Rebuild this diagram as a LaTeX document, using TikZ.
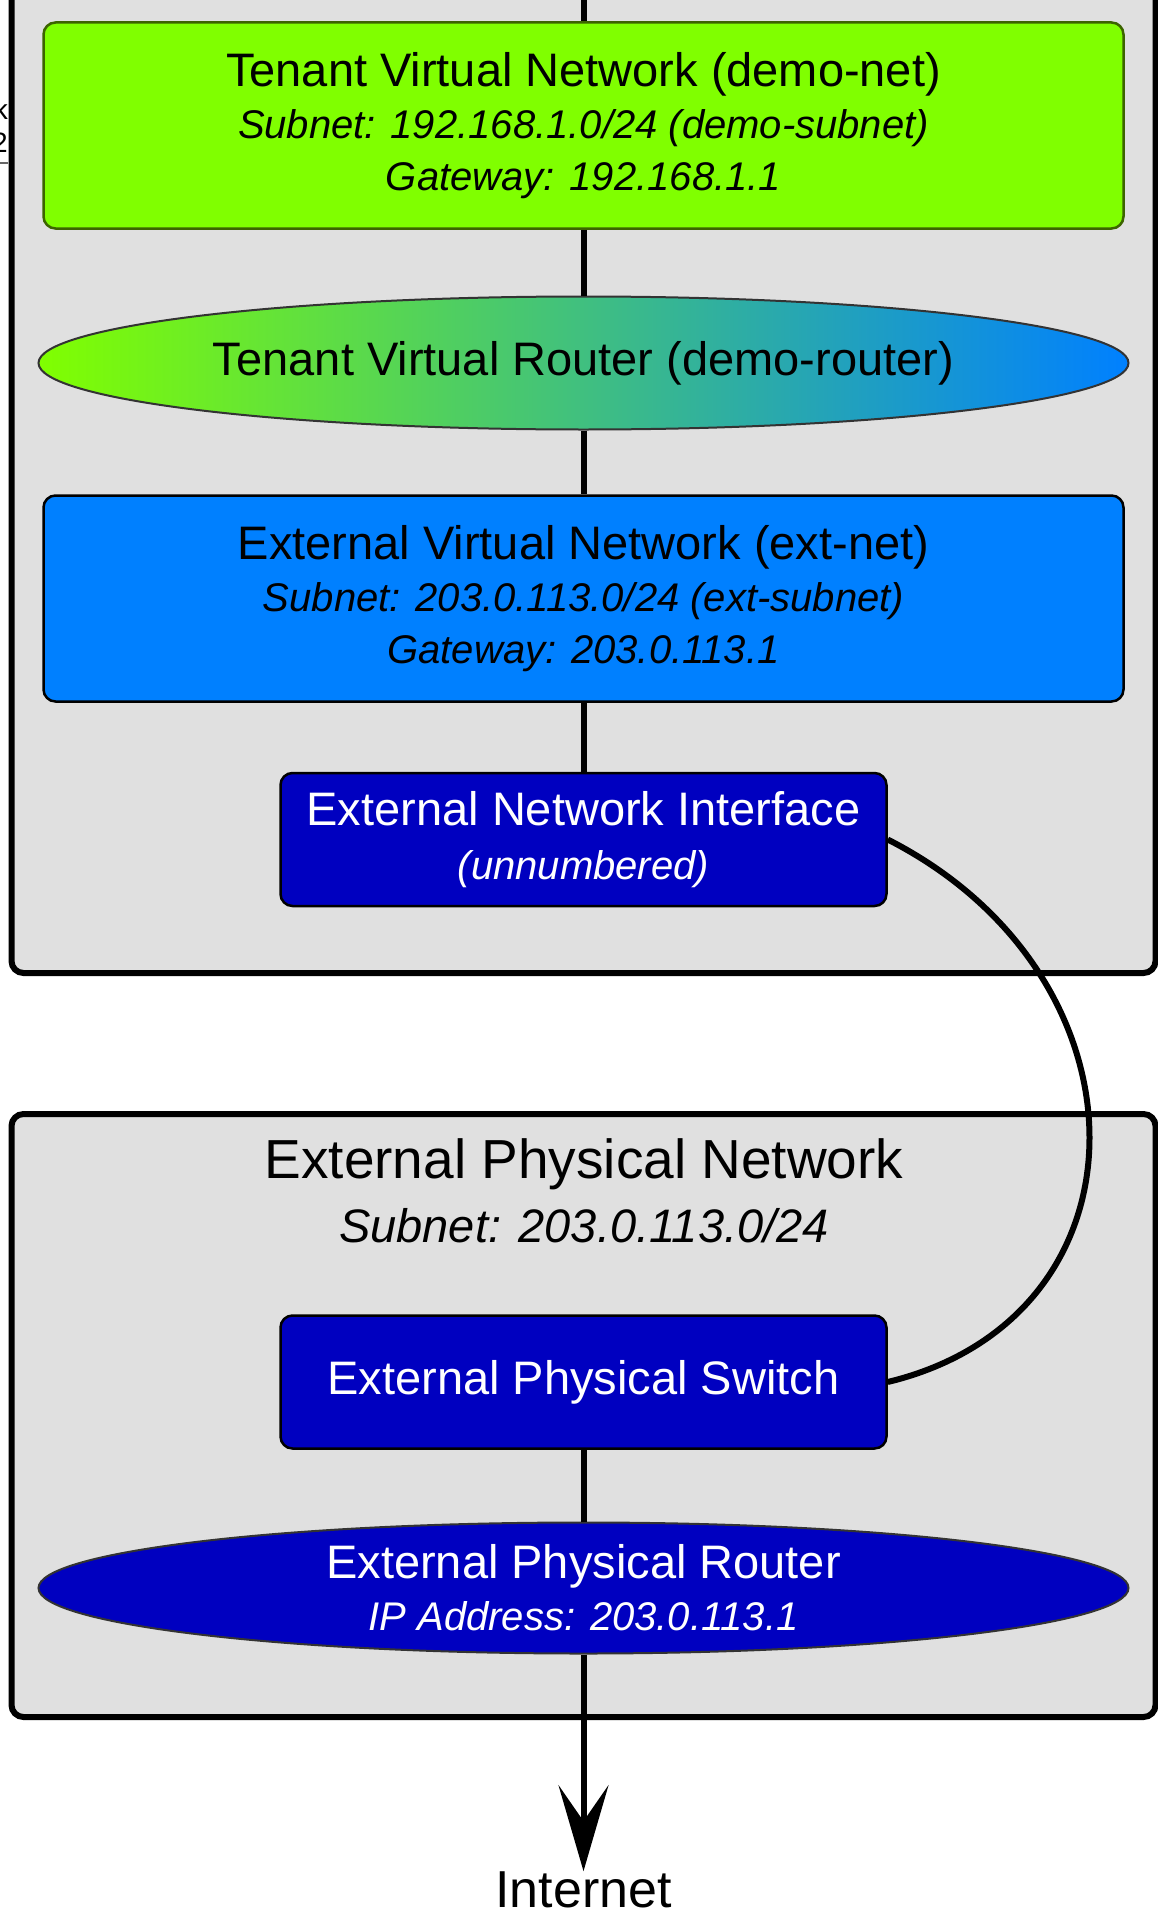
\documentclass[tikz,border=0pt]{standalone}
\usepackage{fontspec}
\setmainfont{Liberation Sans}
\usetikzlibrary{arrows.meta, shapes.geometric}

\definecolor{netgreen}{RGB}{128,255,0}
\definecolor{netgreenline}{RGB}{60,100,0}
\definecolor{netblue}{RGB}{0,128,255}
\definecolor{devblue}{RGB}{0,0,192}
\definecolor{areagray}{RGB}{224,224,224}

\newcommand{\mainline}[1]{{\upshape\fontsize{47}{52}\selectfont #1}}

\tikzset{
	area/.style={draw=black, line width=6pt, fill=areagray, rounded corners=12pt, inner sep=0pt, minimum width=1144pt},
	netbox/.style={draw=black, line width=2.5pt, rounded corners=12pt, inner sep=0pt, minimum width=1080pt, minimum height=206pt, align=center, font=\fontsize{40}{52}\selectfont\itshape},
	devbox/.style={draw=black, line width=2.5pt, fill=devblue, text=white, rounded corners=12pt, inner sep=0pt, minimum width=606pt, minimum height=133pt, align=center, font=\fontsize{40}{54}\selectfont\itshape},
	router/.style={ellipse, draw=black!80, line width=2pt, inner sep=0pt, minimum width=1090pt, minimum height=133pt, align=center, font=\fontsize{40}{52}\selectfont\itshape},
	link/.style={draw=black, line width=6pt},
	frag/.style={anchor=base east, inner sep=0pt, font=\fontsize{28}{30}\selectfont}
}

\begin{document}
\begin{tikzpicture}[x=1pt, y=-1pt]
	\path[use as bounding box, fill=white] (0,0) rectangle (1157,1913);
%	\draw[red] (583.5,0) -- (583.5,1913);

	% containers
	\node[area, minimum height=1052pt] (tenantarea) at (583.5,447) {};
	\node[area, minimum height=603pt] (physarea) at (583.5,1415.5) {};

	% cut-off labels at the left edge
	\node[frag] (fragk) at (8,120) {k};
	\node[frag] (fragtwo) at (8,153) {2};
	\coordinate (fragend) at (8,163);
	\draw[line width=1.5pt, black!60] (fragend) -- ++(-10,0);

	\coordinate (top) at (583.5,-20);

	\node[netbox, fill=netgreen, draw=netgreenline] (tenantnet) at (583.5,125.5) {\mainline{Tenant Virtual Network (demo-net)}\\ Subnet: 192.168.1.0/24 (demo-subnet)\\ Gateway: 192.168.1.1};
	\node[router, left color=netgreen, right color=netblue] (demorouter) at (583.5,363) {\mainline{Tenant Virtual Router (demo-router)}};
	\node[netbox, fill=netblue] (extnet) at (583.5,598.5) {\mainline{External Virtual Network (ext-net)}\\ Subnet: 203.0.113.0/24 (ext-subnet)\\ Gateway: 203.0.113.1};
	\node[devbox] (iface) at (583.5,839.5) {\mainline{External Network Interface}\\ (unnumbered)};

	\node[inner sep=0pt, align=center, font=\fontsize{47}{64}\selectfont\itshape] (physnet) at (584,1190.5) {{\upshape\fontsize{55}{64}\selectfont External Physical Network}\\ Subnet: 203.0.113.0/24};
	\node[devbox] (physswitch) at (583.5,1382) {\mainline{External Physical Switch}};
	\node[router, fill=devblue, text=white, minimum height=131pt] (physrouter) at (583.5,1588) {\mainline{External Physical Router}\\ IP Address: 203.0.113.1};
	\node[inner sep=0pt, font=\fontsize{52}{60}\selectfont] (internet) at (583.5,1889.5) {Internet};

	% connections
	\draw[link] (top) -- (tenantnet);
	\draw[link] (tenantnet) -- (demorouter);
	\draw[link] (demorouter) -- (extnet);
	\draw[link] (extnet) -- (iface);
	\draw[link] (iface.east) .. controls +(269,137) and +(269,-65) .. (physswitch.east);
	\draw[link] (physswitch) -- (physrouter);
	\draw[link, -{Stealth[length=86pt, width=50pt, inset=36pt]}] (physrouter) -- (internet);

\end{tikzpicture}
\end{document}
